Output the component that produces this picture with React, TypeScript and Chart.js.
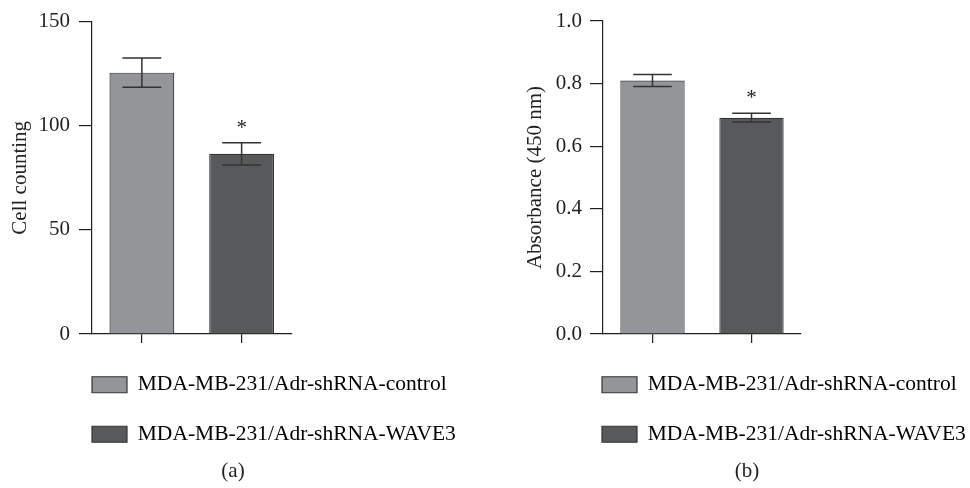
import React, { useEffect, useRef } from "react";
import { Chart, registerables } from "chart.js";

Chart.register(...registerables);

// ---------- data ----------
const categories = ["MDA-MB-231/Adr-shRNA-control", "MDA-MB-231/Adr-shRNA-WAVE3"];
const cellCounts = [125.5, 86.5];
const cellCountErrors = [7.0, 5.3];
const absorbance = [0.81, 0.691];
const absorbanceErrors = [0.019, 0.014];
const significance = ["", "*"];
const cellTicks = [0, 50, 100, 150];
const absTicks = [0, 0.2, 0.4, 0.6, 0.8, 1.0];
const barColors = ["#939598", "#58595b"];

// ---------- styles ----------
const FONT = '"Liberation Serif", "Times New Roman", serif';
const INK = "#231f20";
const BAR_BORDER = "#353535";

type PanelProps = {
  values: number[];
  errors: number[];
  ticks: number[];
  yMax: number;
  decimals: number;
  yTitle: string;
  caption: string;
  left: number;
  yWidth: number;
  reserve: number;
  yTitlePad: number;
  tickPad: number;
  legendLeft: number;
  titleLeft: number;
  titleRight: number;
};

function Panel(p: PanelProps) {
  const ref = useRef<HTMLCanvasElement | null>(null);

  useEffect(() => {
    if (!ref.current) return;
    const errorBars = {
      id: "errorBars",
      afterDatasetsDraw(chart: any) {
        const { ctx } = chart;
        const meta = chart.getDatasetMeta(0);
        const y = chart.scales.y;
        ctx.save();
        meta.data.forEach((el: any, i: number) => {
          const v = p.values[i];
          const top = y.getPixelForValue(v + p.errors[i]);
          const bot = y.getPixelForValue(v - p.errors[i]);
          const half = el.width * 0.3;
          ctx.strokeStyle = "#333333";
          ctx.lineWidth = 1.5;
          ctx.beginPath();
          ctx.moveTo(el.x, top);
          ctx.lineTo(el.x, bot);
          ctx.moveTo(el.x - half, top);
          ctx.lineTo(el.x + half, top);
          ctx.moveTo(el.x - half, bot);
          ctx.lineTo(el.x + half, bot);
          ctx.stroke();
          if (significance[i]) {
            ctx.font = `21px ${FONT}`;
            ctx.fillStyle = INK;
            ctx.textAlign = "center";
            ctx.textBaseline = "alphabetic";
            ctx.fillText(significance[i], el.x, top - 9);
          }
        });
        ctx.restore();
      },
    };
    const boxShift = {
      id: "boxShift",
      afterLayout(chart: any) {
        const lg = chart.legend;
        if (lg) {
          lg.left = p.legendLeft;
          lg.right = chart.width;
        }
        const tt = chart.titleBlock;
        if (tt) {
          tt.left = p.titleLeft;
          tt.right = p.titleRight;
        }
      },
    };

    const chart = new Chart(ref.current, {
      type: "bar",
      data: {
        labels: categories,
        datasets: [
          {
            data: p.values,
            backgroundColor: barColors,
            borderColor: BAR_BORDER,
            borderWidth: 1.2,
            barPercentage: 0.65,
            categoryPercentage: 1.0,
          },
        ],
      },
      options: {
        animation: false,
        responsive: true,
        maintainAspectRatio: false,
        layout: { padding: { left: 0, right: 0, top: 21, bottom: 0 } },
        scales: {
          x: {
            type: "category",
            offset: true,
            grid: {
              offset: false,
              drawOnChartArea: false,
              drawTicks: true,
              tickLength: 9,
              color: INK,
              lineWidth: 1.2,
            },
            border: { color: INK, width: 1.2 },
            ticks: { display: false },
            afterFit: (s: any) => {
              s.height = 12;
            },
          },
          y: {
            min: 0,
            max: p.yMax,
            grid: { drawOnChartArea: false, tickLength: 13, color: INK, lineWidth: 1.2 },
            border: { color: INK, width: 1.2 },
            ticks: {
              padding: p.tickPad,
              color: INK,
              font: { family: FONT, size: 21 },
              callback: (v: any) => Number(v).toFixed(p.decimals),
            },
            afterBuildTicks: (s: any) => {
              s.ticks = p.ticks.map((v) => ({ value: v }));
            },
            title: {
              display: true,
              text: p.yTitle,
              color: INK,
              font: { family: FONT, size: 21 },
              padding: { top: p.yTitlePad, bottom: 0 },
            },
            afterFit: (s: any) => {
              s.width = p.yWidth;
            },
          },
          yR: {
            type: "linear",
            position: "right",
            display: true,
            min: 0,
            max: 1,
            grid: { display: false },
            border: { display: false },
            ticks: { display: false },
            afterFit: (s: any) => {
              s.width = p.reserve;
            },
          },
        },
        plugins: {
          tooltip: { enabled: false },
          legend: {
            position: "bottom",
            align: "start",
            onClick: () => {},
            labels: {
              boxWidth: 35,
              boxHeight: 16,
              padding: 28,
              color: INK,
              font: { family: FONT, size: 21.5 },
              generateLabels: () =>
                categories.map((t, i) => ({
                  text: t,
                  fillStyle: barColors[i],
                  strokeStyle: BAR_BORDER,
                  lineWidth: 1.2,
                  hidden: false,
                  index: i,
                  datasetIndex: 0,
                })),
            },
          },
          title: {
            display: true,
            position: "bottom",
            text: p.caption,
            color: INK,
            font: { family: FONT, size: 21, weight: "normal" },
            padding: { top: 3.5, bottom: 4.3 },
          },
        },
      } as any,
      plugins: [errorBars, boxShift],
    });
    return () => chart.destroy();
  }, []);

  return (
    <div style={{ position: "absolute", left: p.left, top: 0, width: 485, height: 488 }}>
      <canvas ref={ref} />
    </div>
  );
}

export default function App() {
  return (
    <div
      style={{
        position: "fixed",
        left: 0,
        top: 0,
        width: 970,
        height: 488,
        background: "#ffffff",
        overflow: "hidden",
      }}
    >
      <Panel
        values={cellCounts}
        errors={cellCountErrors}
        ticks={cellTicks}
        yMax={150}
        decimals={0}
        yTitle="Cell counting"
        caption="(a)"
        left={0}
        yWidth={92}
        reserve={193.5}
        yTitlePad={7.8}
        tickPad={9}
        legendLeft={64}
        titleLeft={0}
        titleRight={466}
      />
      <Panel
        values={absorbance}
        errors={absorbanceErrors}
        ticks={absTicks}
        yMax={1}
        decimals={1}
        yTitle="Absorbance (450 nm)"
        caption="(b)"
        left={485}
        yWidth={118}
        reserve={169}
        yTitlePad={37.8}
        tickPad={8}
        legendLeft={89}
        titleLeft={39}
        titleRight={485}
      />
    </div>
  );
}
